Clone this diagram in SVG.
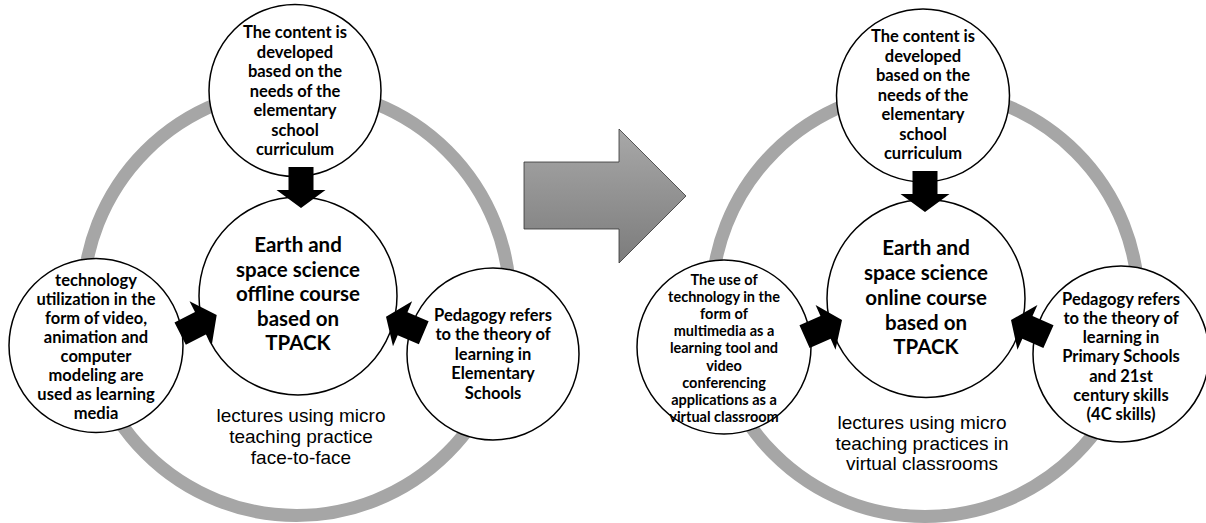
<svg xmlns="http://www.w3.org/2000/svg" xmlns:xlink="http://www.w3.org/1999/xlink" width="1206" height="523" viewBox="0 0 1206 523">
<style>
.ring{fill:none;stroke:#a6a6a6;stroke-width:13}
.node{fill:#fff;stroke:#000;stroke-width:1.5}
.t{font-family:Lato,"Open Sans","Liberation Sans",sans-serif;font-weight:700;fill:#000;text-anchor:middle}
.s16{font-size:16.5px}
.s14{font-size:14.5px}
.big{font-size:20.5px}
.lec{font-family:"Liberation Sans",Arial,sans-serif;font-size:19px;fill:#000;text-anchor:middle}
.blk{fill:#000}
</style>
<defs>
<path id="blk" d="M0,0 L-18,-24.5 L-18,-12.5 L-41,-12.5 L-41,12.5 L-18,12.5 L-18,24.5 Z"/>
<linearGradient id="gArrow" x1="0" y1="0" x2="0" y2="1">
<stop offset="0" stop-color="#a8a8a8"/>
<stop offset="1" stop-color="#7c7c7c"/>
</linearGradient>
</defs>
<rect width="1206" height="523" fill="#fff"/>

<g id="rings">
<circle class="ring" cx="296.5" cy="302" r="213.5"/>
<circle class="ring" cx="925" cy="303" r="213.5"/>
</g>

<g id="left-diagram">
<g id="L-content">
<circle class="node" cx="295" cy="90.5" r="86"/>
<text class="t s16"><tspan x="295" y="38">The content is</tspan><tspan x="295" y="57.5">developed</tspan><tspan x="295" y="77">based on the</tspan><tspan x="295" y="96.5">needs of the</tspan><tspan x="295" y="116">elementary</tspan><tspan x="295" y="135.5">school</tspan><tspan x="295" y="155">curriculum</tspan></text>
</g>
<g id="L-center">
<circle class="node" cx="298" cy="296" r="99"/>
<text class="t big"><tspan x="298" y="252">Earth and</tspan><tspan x="298" y="276.5">space science</tspan><tspan x="298" y="301">offline course</tspan><tspan x="298" y="325.5">based on</tspan><tspan x="298" y="350">TPACK</tspan></text>
</g>
<g id="L-technology">
<circle class="node" cx="96" cy="345.5" r="87"/>
<text class="t s16"><tspan x="96" y="285.5">technology</tspan><tspan x="96" y="304.5">utilization in the</tspan><tspan x="96" y="323.5">form of video,</tspan><tspan x="96" y="342.5">animation and</tspan><tspan x="96" y="361.5">computer</tspan><tspan x="96" y="380.5">modeling are</tspan><tspan x="96" y="399.5">used as learning</tspan><tspan x="96" y="418.5">media</tspan></text>
</g>
<g id="L-pedagogy">
<circle class="node" cx="493" cy="354" r="86"/>
<text class="t s16"><tspan x="493" y="320.5">Pedagogy refers</tspan><tspan x="493" y="340">to the theory of</tspan><tspan x="493" y="359.5">learning in</tspan><tspan x="493" y="379">Elementary</tspan><tspan x="493" y="398.5">Schools</tspan></text>
</g>
<g id="L-lectures">
<text class="lec"><tspan x="301" y="421.5">lectures using micro</tspan><tspan x="301" y="442.5">teaching practice</tspan><tspan x="301" y="463.5">face-to-face</tspan></text>
</g>
</g>

<g id="right-diagram">
<g id="R-content">
<circle class="node" cx="923" cy="95.5" r="86.5"/>
<text class="t s16"><tspan x="923" y="42">The content is</tspan><tspan x="923" y="61.5">developed</tspan><tspan x="923" y="81">based on the</tspan><tspan x="923" y="100.5">needs of the</tspan><tspan x="923" y="120">elementary</tspan><tspan x="923" y="139.5">school</tspan><tspan x="923" y="159">curriculum</tspan></text>
</g>
<g id="R-center">
<circle class="node" cx="926" cy="298.5" r="99"/>
<text class="t big"><tspan x="926" y="255">Earth and</tspan><tspan x="926" y="280">space science</tspan><tspan x="926" y="305">online course</tspan><tspan x="926" y="330">based on</tspan><tspan x="926" y="354">TPACK</tspan></text>
</g>
<g id="R-technology">
<circle class="node" cx="724" cy="347" r="87"/>
<text class="t s14"><tspan x="724" y="285">The use of</tspan><tspan x="724" y="302.1">technology in the</tspan><tspan x="724" y="319.2">form of</tspan><tspan x="724" y="336.3">multimedia as a</tspan><tspan x="724" y="353.4">learning tool and</tspan><tspan x="724" y="370.5">video</tspan><tspan x="724" y="387.6">conferencing</tspan><tspan x="724" y="404.7">applications as a</tspan><tspan x="724" y="421.8">virtual classroom</tspan></text>
</g>
<g id="R-pedagogy">
<circle class="node" cx="1121" cy="354" r="88"/>
<text class="t s16"><tspan x="1121" y="304.5">Pedagogy refers</tspan><tspan x="1121" y="323.8">to the theory of</tspan><tspan x="1121" y="343.1">learning in</tspan><tspan x="1121" y="362.4">Primary Schools</tspan><tspan x="1121" y="381.7">and 21st</tspan><tspan x="1121" y="401">century skills</tspan><tspan x="1121" y="420.3">(4C skills)</tspan></text>
</g>
<g id="R-lectures">
<text class="lec"><tspan x="922" y="428.5">lectures using micro</tspan><tspan x="922" y="449.5">teaching practices in</tspan><tspan x="922" y="469.5">virtual classrooms</tspan></text>
</g>
</g>

<g id="connectors">
<use class="blk" xlink:href="#blk" href="#blk" transform="translate(301,208) rotate(90)"/>
<use class="blk" xlink:href="#blk" href="#blk" transform="translate(216.7,315) rotate(-27)"/>
<use class="blk" xlink:href="#blk" href="#blk" transform="translate(386,316.7) rotate(203)"/>
<use class="blk" xlink:href="#blk" href="#blk" transform="translate(925,212) rotate(90)"/>
<use class="blk" xlink:href="#blk" href="#blk" transform="translate(842,320) rotate(-24)"/>
<use class="blk" xlink:href="#blk" href="#blk" transform="translate(1011,320) rotate(204)"/>
</g>

<g id="transition-arrow">
<path d="M524,162 L619,162 L619,129 L686,196 L619,263 L619,229 L524,229 Z" fill="url(#gArrow)" stroke="#333" stroke-width="0.8"/>
</g>
</svg>
